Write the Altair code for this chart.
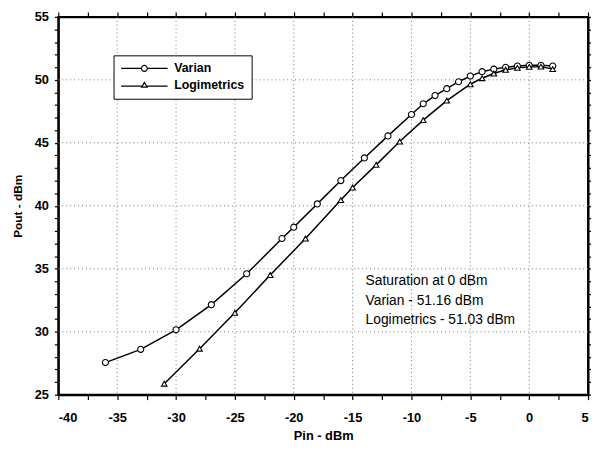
import altair as alt
import pandas as pd

# ---- data ----
series_names = ["Varian", "Logimetrics"]
varian_pin = [-36, -33, -30, -27, -24, -21, -20, -18, -16, -14, -12, -10, -9, -8,
              -7, -6, -5, -4, -3, -2, -1, 0, 1, 2]
varian_pout = [27.55, 28.6, 30.15, 32.15, 34.6, 37.4, 38.3, 40.15, 42.0, 43.8, 45.55,
               47.25, 48.1, 48.75, 49.3, 49.85, 50.3, 50.65, 50.85, 51.0, 51.1, 51.16,
               51.15, 51.1]
logi_pin = [-31, -28, -25, -22, -19, -16, -15, -13, -11, -9, -7, -5, -4, -3, -2, -1,
            0, 1, 2]
logi_pout = [25.87, 28.65, 31.5, 34.5, 37.4, 40.45, 41.45, 43.25, 45.1, 46.8, 48.35,
             49.65, 50.13, 50.5, 50.8, 50.95, 51.03, 51.05, 50.85]

x_tick_values = [-40, -37.5, -35, -32.5, -30, -27.5, -25, -22.5, -20, -17.5, -15,
                 -12.5, -10, -7.5, -5, -2.5, 0, 2.5, 5]
y_tick_values = [25, 26, 27, 28, 29, 30, 31, 32, 33, 34, 35, 36, 37, 38, 39, 40, 41,
                 42, 43, 44, 45, 46, 47, 48, 49, 50, 51, 52, 53, 54, 55]
grid_x = [-35, -30, -25, -20, -15, -10, -5, 0]
grid_y = [30, 35, 40, 45, 50]
note_lines = ["Saturation at 0 dBm", "Varian - 51.16 dBm", "Logimetrics - 51.03 dBm"]
note_x = [-13.9]
note_y = [34.55]

df = pd.concat([
    pd.DataFrame({"series": "Varian", "pin": varian_pin, "pout": varian_pout}),
    pd.DataFrame({"series": "Logimetrics", "pin": logi_pin, "pout": logi_pout}),
], ignore_index=True)
note_df = pd.DataFrame({"nx": note_x, "ny": note_y, "txt": ["\n".join(note_lines)]})

FONT = "Liberation Sans"
xscale = alt.Scale(domain=[-40, 5], nice=False, zero=False)
yscale = alt.Scale(domain=[25, 55], nice=False, zero=False)

common_axis = dict(domainColor="black", domainWidth=2, tickColor="black", tickWidth=1.2,
                   grid=False, labelFont=FONT, labelFontWeight="bold", labelFontSize=13,
                   labelColor="black", titleFont=FONT, titleFontWeight="bold",
                   titleColor="black")

label_expr = "datum.value % 5 == 0 ? toString(datum.value) : ''"

bottom_axis = alt.Axis(orient="bottom", values=x_tick_values, tickSize=5, labelPadding=12,
                       labelExpr=label_expr,
                       title="Pin - dBm", titleFontSize=13, titlePadding=5, **common_axis)
top_axis = alt.Axis(orient="top", values=x_tick_values, tickSize=5, labels=False,
                    title=None, **common_axis)
left_axis = alt.Axis(orient="left", values=y_tick_values, tickSize=4, labelPadding=6,
                     labelExpr=label_expr,
                     title="Pout - dBm", titleFontSize=12, titlePadding=10, **common_axis)
right_axis = alt.Axis(orient="right", values=y_tick_values, tickSize=4, labels=False,
                      title=None, **common_axis)

# legend symbols: a short line with the series marker in the middle
varian_sym = ("M-4.7,0H-0.6M0.6,0H4.7M-0.6,0A0.6,0.6,0,1,1,0.6,0"
              "A0.6,0.6,0,1,1,-0.6,0")
logi_sym = "M-4.7,0.2H-0.55M0.55,0.2H4.7M0,-0.55L0.55,0.4L-0.55,0.4Z"

legend = alt.Legend(
    title=None, orient="none", legendX=56, legendY=39, direction="vertical",
    strokeColor="black", fillColor="white", padding=7, rowPadding=4,
    symbolSize=100, symbolOffset=18, labelOffset=24, symbolOpacity=1,
    symbolFillColor="white", symbolStrokeColor="black", symbolStrokeWidth=1.2,
    labelFont=FONT, labelFontWeight="bold", labelFontSize=12.5, labelColor="black",
)

grid_v = alt.Chart(pd.DataFrame({"gx": grid_x})).mark_rule(
    color="#777777", strokeDash=[1, 3], strokeWidth=1
).encode(x=alt.X("gx:Q", scale=xscale, axis=None))

grid_h = alt.Chart(pd.DataFrame({"gy": grid_y})).mark_rule(
    color="#777777", strokeDash=[1, 3], strokeWidth=1
).encode(y=alt.Y("gy:Q", scale=yscale, axis=None))

lines = alt.Chart(df).mark_line(strokeWidth=1.5, color="black").encode(
    x=alt.X("pin:Q", scale=xscale, axis=bottom_axis),
    y=alt.Y("pout:Q", scale=yscale, axis=left_axis),
    detail="series:N",
)

pts_varian = alt.Chart(df).transform_filter(alt.datum.series == "Varian").mark_point(
    shape="circle", filled=True, fill="white", stroke="black", strokeWidth=1.1,
    size=38, opacity=1
).encode(
    x=alt.X("pin:Q", scale=xscale, axis=top_axis),
    y=alt.Y("pout:Q", scale=yscale, axis=right_axis),
)

pts_logi = alt.Chart(df).transform_filter(alt.datum.series == "Logimetrics").mark_point(
    shape="triangle-up", filled=True, fill="white", stroke="black", strokeWidth=1.1,
    size=32, opacity=1
).encode(
    x=alt.X("pin:Q", scale=xscale, axis=None),
    y=alt.Y("pout:Q", scale=yscale, axis=None),
)

legend_layer = alt.Chart(df).mark_point(opacity=0, size=100).encode(
    x=alt.X("pin:Q", scale=xscale, axis=None),
    y=alt.Y("pout:Q", scale=yscale, axis=None),
    shape=alt.Shape("series:N", scale=alt.Scale(domain=series_names,
                                                range=[varian_sym, logi_sym]),
                    legend=legend),
)

note = alt.Chart(note_df).mark_text(
    align="left", baseline="top", font=FONT, fontSize=14, color="black",
    lineBreak="\n", lineHeight=19.5
).encode(
    x=alt.X("nx:Q", scale=xscale, axis=None),
    y=alt.Y("ny:Q", scale=yscale, axis=None),
    text="txt:N",
)

chart = alt.layer(grid_v, grid_h, lines, pts_varian, pts_logi, legend_layer, note).resolve_axis(
    x="independent", y="independent"
).properties(
    width=537, height=383,
    autosize=alt.AutoSizeParams(type="none"),
    padding={"left": 51, "top": 6, "right": 3, "bottom": 48},
    background="white",
).configure_view(stroke="black", strokeWidth=2)

chart.save("out.html", embed_options={"renderer": "svg", "actions": False})
